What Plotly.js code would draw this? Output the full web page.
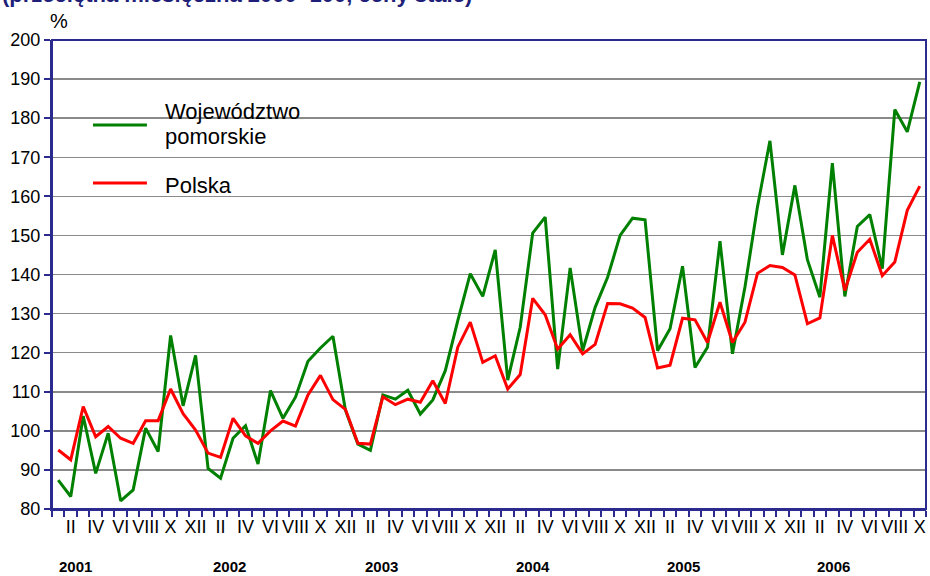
<!DOCTYPE html>
<html>
<head>
<meta charset="utf-8">
<script src="https://cdn.plot.ly/plotly-3.0.1.min.js"></script>
<style>html,body{margin:0;padding:0;background:#fff;}#chart{width:930px;height:576px;}</style>
</head>
<body>
<div id="chart"></div>
<script>
// Monthly index values, Jan 2001 .. Oct 2006
var pomorskie = [87.4,83.2,103.8,89.1,99.4,82.1,84.9,100.7,94.7,124.4,106.4,119.3,
  90.4,87.9,98.1,101.3,91.5,110.3,103.2,108.6,117.8,121.2,124.2,105.3,
  96.6,95.0,109.2,108.1,110.4,104.3,107.9,115.4,128.2,140.2,134.4,146.3,
  113.0,126.5,150.6,154.7,115.8,141.7,120.5,131.6,139.3,150.0,154.4,154.0,
  120.5,126.1,142.1,116.2,121.4,148.5,119.7,136.8,157.3,174.2,145.0,162.8,
  143.8,134.2,168.5,134.4,152.3,155.3,141.5,182.2,176.5,189.3];
var polska = [95.1,92.6,106.2,98.5,101.1,98.1,96.8,102.6,102.6,110.7,104.4,100.2,
  94.3,93.2,103.2,98.7,96.8,100.0,102.5,101.2,109.2,114.2,108.0,105.5,
  96.8,96.6,108.7,106.7,108.1,107.3,112.8,107.0,121.4,127.8,117.5,119.2,
  110.7,114.4,133.9,129.7,120.9,124.6,119.7,122.1,132.6,132.5,131.4,129.0,
  116.1,116.8,128.8,128.4,122.6,132.9,122.6,127.8,140.3,142.3,141.8,139.9,
  127.4,128.9,150.0,135.9,145.7,149.0,139.7,143.2,156.4,162.6];
var monthLabels = ['II','IV','VI','VIII','X','XII'];
var years = ['2001','2002','2003','2004','2005','2006'];
var yearPos = [1.4,13.7,25.9,38.0,50.1,62.1];
var seriesNames = ['Województwo pomorskie','Polska'];
var titleText = '(przeciętna miesięczna 2000=100, ceny stałe)';

var idx = pomorskie.map(function(_, i){ return i; });
var tickvals = [], ticktext = [];
for (var i = 0; i < idx.length; i++) {
  var m = i % 12;
  if (m % 2 === 1) { tickvals.push(i); ticktext.push(monthLabels[(m - 1) / 2]); }
}

var navy = '#2b2b8f';
var FONT = 'Liberation Sans, Arial, sans-serif';
var traces = [
  {x: idx, y: pomorskie, name: seriesNames[0], type: 'scatter', mode: 'lines',
   line: {color: '#008000', width: 3}, showlegend: false, hoverinfo: 'y'},
  {x: idx, y: polska, name: seriesNames[1], type: 'scatter', mode: 'lines',
   line: {color: '#ff0000', width: 3}, showlegend: false, hoverinfo: 'y'}
];

var annotations = years.map(function(y, k){
  return {x: yearPos[k], xref: 'x', y: -0.122, yref: 'paper', yanchor: 'middle',
    text: '<b>' + y + '</b>', showarrow: false,
    font: {family: FONT, size: 15, color: '#000'}};
});
annotations.push({x: 0.0, xref: 'paper', xanchor: 'left', xshift: -4, y: 1.0, yref: 'paper', yanchor: 'bottom', yshift: 6,
  text: '%', showarrow: false, font: {family: FONT, size: 20, color: '#000'}});
annotations.push({x: 0.1269, xref: 'paper', xanchor: 'left', y: 0.8465, yref: 'paper', yanchor: 'middle',
  text: seriesNames[0].split(' ')[0], showarrow: false, font: {family: FONT, size: 22, color: '#000'}});
annotations.push({x: 0.1269, xref: 'paper', xanchor: 'left', y: 0.7932, yref: 'paper', yanchor: 'middle',
  text: seriesNames[0].split(' ')[1], showarrow: false, font: {family: FONT, size: 22, color: '#000'}});
annotations.push({x: 0.1269, xref: 'paper', xanchor: 'left', y: 0.6887, yref: 'paper', yanchor: 'middle',
  text: seriesNames[1], showarrow: false, font: {family: FONT, size: 22, color: '#000'}});
// partially visible title at top edge
annotations.push({x: 0, xref: 'paper', xanchor: 'left', xshift: -52, y: 1.0, yref: 'paper', yanchor: 'bottom', yshift: 31,
  text: '<b>' + titleText + '</b>', showarrow: false, font: {family: FONT, size: 22, color: '#1f1f7a'}});

var shapes = [
  {type: 'line', xref: 'paper', yref: 'paper', x0: 0.0469, x1: 0.1086, y0: 0.8188, y1: 0.8188, line: {color: '#008000', width: 3}},
  {type: 'line', xref: 'paper', yref: 'paper', x0: 0.0469, x1: 0.1086, y0: 0.6951, y1: 0.6951, line: {color: '#ff0000', width: 3}},
  {type: 'rect', xref: 'paper', yref: 'paper', x0: 0, x1: 1, y0: 0, y1: 1, line: {color: navy, width: 2}, layer: 'above'}
];

var layout = {
  width: 930, height: 576,
  margin: {l: 52, r: 4, t: 40, b: 67},
  paper_bgcolor: '#fff', plot_bgcolor: '#fff',
  xaxis: {range: [-0.5, 69.5], tickvals: tickvals, ticktext: ticktext, ticks: '', ticklen: 0,
    showgrid: false, zeroline: false, showline: true, linecolor: navy, linewidth: 2,
    tickfont: {family: FONT, size: 18, color: '#000'},
    minor: {tick0: -0.5, dtick: 1, ticks: 'outside', ticklen: 6, tickcolor: navy, tickwidth: 2, showgrid: false}},
  yaxis: {range: [80, 200], dtick: 10, ticks: 'outside', ticklen: 6, tickcolor: navy, tickwidth: 2,
    showline: true, linecolor: navy, linewidth: 2, zeroline: false,
    showgrid: true, gridcolor: '#8a8a8a', gridwidth: 1.5,
    tickfont: {family: FONT, size: 18, color: '#000'}},
  annotations: annotations,
  shapes: shapes,
  showlegend: false
};

Plotly.newPlot('chart', traces, layout, {displayModeBar: false, staticPlot: true});
</script>
</body>
</html>
